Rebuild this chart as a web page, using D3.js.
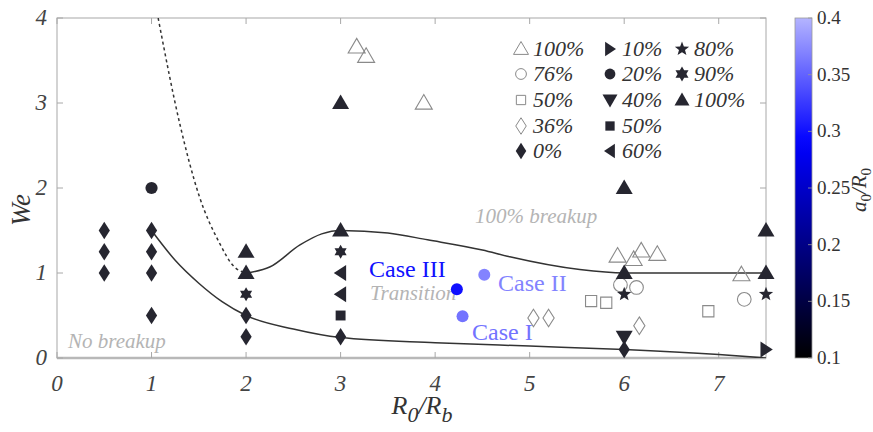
<!doctype html>
<html>
<head>
  <meta charset="utf-8">
  <script src="https://cdnjs.cloudflare.com/ajax/libs/d3/7.8.5/d3.min.js"></script>
</head>
<body style="margin:0">
  <script>

    // ---- data (x = R0/Rb, y = We) ----
    const openTri100 = [[3.17, 3.66], [3.27, 3.55], [3.88, 3.0], [5.93, 1.2], [6.1, 1.16], [6.18, 1.26], [6.35, 1.22], [7.24, 0.98]];
    const openCirc76 = [[5.96, 0.86], [6.13, 0.83], [7.27, 0.69]];
    const openSq50 = [[5.65, 0.67], [5.81, 0.65], [6.89, 0.55]];
    const openDia36 = [[5.04, 0.47], [5.2, 0.47], [6.16, 0.38]];
    const dia0 = [[0.5, 1], [0.5, 1.25], [0.5, 1.5], [1, 0.5], [1, 1], [1, 1.25], [1, 1.5], [2, 0.25], [2, 0.5], [3, 0.25], [6, 0.1]];
    const triR10 = [[7.5, 0.1]];
    const circ20 = [[1, 2]];
    const triD40 = [[6, 0.25]];
    const sq50 = [[3, 0.5]];
    const triL60 = [[3, 0.75], [3, 1]];
    const star80 = [[6, 0.75], [7.5, 0.75]];
    const hex90 = [[2, 0.75], [3, 1.25]];
    const tri100 = [[2, 1], [2, 1.25], [3, 1.5], [3, 3], [6, 1], [6, 2], [7.5, 1], [7.5, 1.5]];

    const caseNames = ["Case I", "Case II", "Case III"];
    const caseX = [4.29, 4.52, 4.23];
    const caseWe = [0.49, 0.98, 0.81];
    const caseA = [0.36, 0.37, 0.3];

    const lowerCurve = [[1, 1.5], [1.25, 1.15], [1.5, 0.88], [1.75, 0.66], [2, 0.5], [2.5, 0.34], [3, 0.24], [4, 0.18], [5, 0.14], [6, 0.1], [7, 0.04], [7.5, 0]];
    const upperCurve = [[2, 1], [2.25, 1.07], [2.57, 1.33], [2.8, 1.46], [3, 1.5], [3.5, 1.47], [3.92, 1.39], [4.5, 1.27], [4.79, 1.19], [5.53, 1.04], [6, 1.0], [7.5, 1.0]];
    const dottedCurve = [[1.07, 4], [1.3, 2.75], [1.5, 1.92], [1.72, 1.35], [1.86, 1.09], [2, 1.0]];

    const xTicks = [0, 1, 2, 3, 4, 5, 6, 7];
    const yTicks = [0, 1, 2, 3, 4];
    const cbTicks = [0.1, 0.15, 0.2, 0.25, 0.3, 0.35, 0.4];

    const legendCols = [
      [["openTri", "100%"], ["openCirc", "76%"], ["openSq", "50%"], ["openDia", "36%"], ["dia", "0%"]],
      [["triR", "10%"], ["circ", "20%"], ["triD", "40%"], ["sq", "50%"], ["triL", "60%"]],
      [["star5", "80%"], ["hex", "90%"], ["triU", "100%"]]
    ];

    // ---- layout ----
    const W = 873, H = 432;
    const m = { left: 57, right: 766, top: 18, bottom: 358 };
    const dark = "#262630", openCol = "#8a8a8a", grayText = "#b4b4b4";

    const svg = d3.select("body").append("svg").attr("width", W).attr("height", H);

    const x = d3.scaleLinear().domain([0, 7.5]).range([m.left, m.right]);
    const y = d3.scaleLinear().domain([0, 4]).range([m.bottom, m.top]);

    svg.append("clipPath").attr("id", "clip").append("rect")
      .attr("x", m.left).attr("y", m.top).attr("width", m.right - m.left).attr("height", m.bottom - m.top);

    // text helper: same inline style form that renders the serif face
    function txt(parent, size, italic) {
      return parent.append("text")
        .attr("style", "font-family:'Liberation Serif', serif; font-size:" + size + "px; font-style:" + (italic ? "italic" : "normal"));
    }

    // marker shapes
    function shape(type, r) {
      const p = pts => "M" + pts.map(q => q[0].toFixed(2) + "," + q[1].toFixed(2)).join("L") + "Z";
      switch (type) {
        case "triU": case "openTri": return p([[0, -r], [r * 1.0, r * 0.72], [-r * 1.0, r * 0.72]]);
        case "triD": return p([[0, r], [r * 1.0, -r * 0.72], [-r * 1.0, -r * 0.72]]);
        case "triL": return p([[-r * 0.8, 0], [r * 0.65, -r * 0.95], [r * 0.65, r * 0.95]]);
        case "triR": return p([[r * 0.8, 0], [-r * 0.65, -r * 0.95], [-r * 0.65, r * 0.95]]);
        case "dia": case "openDia": return p([[0, -r * 1.1], [r * 0.7, 0], [0, r * 1.1], [-r * 0.7, 0]]);
        case "sq": case "openSq": return p([[-r * 0.62, -r * 0.62], [r * 0.62, -r * 0.62], [r * 0.62, r * 0.62], [-r * 0.62, r * 0.62]]);
        case "circ": case "openCirc": return d3.arc()({ innerRadius: 0, outerRadius: r * 0.72, startAngle: 0, endAngle: 2 * Math.PI });
        case "star5": {
          const a = [];
          for (let i = 0; i < 10; i++) {
            const rr = i % 2 ? r * 0.42 : r;
            const t = -Math.PI / 2 + i * Math.PI / 5;
            a.push([rr * Math.cos(t), rr * Math.sin(t)]);
          }
          return p(a);
        }
        case "hex": {
          const a = [];
          for (let i = 0; i < 12; i++) {
            const rr = i % 2 ? r * 0.58 : r;
            const t = -Math.PI / 2 + i * Math.PI / 6;
            a.push([rr * Math.cos(t), rr * Math.sin(t)]);
          }
          return p(a);
        }
      }
    }
    const isOpen = t => t.startsWith("open");

    // ---- axes box ----
    const box = svg.append("g");
    box.append("rect").attr("x", m.left).attr("y", m.top)
      .attr("width", m.right - m.left).attr("height", m.bottom - m.top)
      .attr("fill", "none").attr("stroke", "#a8a8a8").attr("stroke-width", 1);
    box.append("line").attr("x1", m.left).attr("x2", m.right).attr("y1", m.bottom).attr("y2", m.bottom)
      .attr("stroke", "#b8b8b8").attr("stroke-width", 2.5);

    xTicks.forEach(t => {
      box.append("line").attr("x1", x(t)).attr("x2", x(t)).attr("y1", m.bottom).attr("y2", m.bottom - 6).attr("stroke", "#a8a8a8");
      box.append("line").attr("x1", x(t)).attr("x2", x(t)).attr("y1", m.top).attr("y2", m.top + 6).attr("stroke", "#a8a8a8");
      txt(box, 23, true).attr("x", x(t)).attr("y", m.bottom + 33).attr("text-anchor", "middle")
        .attr("fill", "#444").text(t);
    });
    yTicks.forEach(t => {
      box.append("line").attr("x1", m.left).attr("x2", m.left + 6).attr("y1", y(t)).attr("y2", y(t)).attr("stroke", "#a8a8a8");
      box.append("line").attr("x1", m.right).attr("x2", m.right - 6).attr("y1", y(t)).attr("y2", y(t)).attr("stroke", "#a8a8a8");
      txt(box, 23, true).attr("x", m.left - 10).attr("y", y(t) + 7).attr("text-anchor", "end")
        .attr("fill", "#444").text(t);
    });

    // axis labels
    txt(svg, 27, true).attr("transform", "translate(30,210) rotate(-90)").attr("text-anchor", "middle")
      .attr("fill", "#333").text("We");
    const xl = txt(svg, 26, true).attr("x", 422).attr("y", 414).attr("text-anchor", "middle").attr("fill", "#333");
    xl.append("tspan").text("R");
    xl.append("tspan").attr("dy", 8).attr("style", "font-size:22px").text("0");
    xl.append("tspan").attr("dy", -8).text("/R");
    xl.append("tspan").attr("dy", 8).attr("style", "font-size:22px").text("b");

    // ---- region labels ----
    const region = (tx, ty, s) => txt(svg, 21, true).attr("x", tx).attr("y", ty).attr("fill", grayText).text(s);
    region(475, 223, "100% breakup");
    region(370, 300, "Transition");
    region(68, 348, "No breakup");

    // ---- curves ----
    const line = d3.line().x(d => x(d[0])).y(d => y(d[1])).curve(d3.curveMonotoneX);
    const curves = svg.append("g").attr("clip-path", "url(#clip)");
    curves.append("path").attr("d", line(lowerCurve)).attr("fill", "none").attr("stroke", "#333").attr("stroke-width", 1.5);
    curves.append("path").attr("d", line(upperCurve)).attr("fill", "none").attr("stroke", "#333").attr("stroke-width", 1.5);
    curves.append("path").attr("d", line(dottedCurve)).attr("fill", "none").attr("stroke", "#333")
      .attr("stroke-width", 1.5).attr("stroke-dasharray", "3,3");

    // ---- markers ----
    const series = [
      ["openTri", openTri100, 8.5], ["openCirc", openCirc76, 9.5], ["openSq", openSq50, 9], ["openDia", openDia36, 8],
      ["dia", dia0, 8], ["triR", triR10, 8.5], ["circ", circ20, 8.5], ["triD", triD40, 8.5], ["sq", sq50, 8],
      ["triL", triL60, 8.5], ["star5", star80, 7.5], ["hex", hex90, 7], ["triU", tri100, 8.5]
    ];
    const mk = svg.append("g");
    series.forEach(([type, data, r]) => {
      mk.selectAll(null).data(data).enter().append("path")
        .attr("transform", d => "translate(" + x(d[0]) + "," + y(d[1]) + ")")
        .attr("d", shape(type, r))
        .attr("fill", isOpen(type) ? "none" : dark)
        .attr("stroke", isOpen(type) ? openCol : "none")
        .attr("stroke-width", 1.1);
    });

    // ---- colour scale ----
    const cmap = d3.scaleLinear().domain([0.1, 0.29, 0.4]).range(["#000000", "#0000ff", "#b4b4ff"]);

    caseNames.forEach((n, i) => {
      svg.append("circle").attr("cx", x(caseX[i])).attr("cy", y(caseWe[i])).attr("r", 6)
        .attr("fill", cmap(caseA[i]));
    });
    const caseLabel = (tx, ty, i) => txt(svg, 24, false).attr("x", tx).attr("y", ty)
      .attr("fill", cmap(caseA[i])).text(caseNames[i]);
    caseLabel(472, 340, 0);
    caseLabel(498, 291, 1);
    caseLabel(369, 277, 2);

    // ---- legend ----
    const legX = [521, 610, 682];
    const legY = [49, 74, 100, 126, 151];
    legendCols.forEach((col, ci) => {
      col.forEach(([type, label], ri) => {
        mk.append("path").attr("transform", "translate(" + legX[ci] + "," + legY[ri] + ")")
          .attr("d", shape(type, 7.5))
          .attr("fill", isOpen(type) ? "none" : dark)
          .attr("stroke", isOpen(type) ? openCol : "none")
          .attr("stroke-width", 1);
        txt(svg, 22, true).attr("x", legX[ci] + 12).attr("y", legY[ri] + 7).attr("fill", "#333").text(label);
      });
    });

    // ---- colorbar ----
    const cb = { x: 795, w: 17 };
    const cy = d3.scaleLinear().domain([0.1, 0.4]).range([m.bottom, m.top]);
    const grad = svg.append("defs").append("linearGradient").attr("id", "cbar")
      .attr("x1", 0).attr("y1", 1).attr("x2", 0).attr("y2", 0);
    d3.range(0, 1.0001, 0.05).forEach(f => {
      grad.append("stop").attr("offset", f).attr("stop-color", cmap(0.1 + f * 0.3));
    });
    svg.append("rect").attr("x", cb.x).attr("y", m.top).attr("width", cb.w).attr("height", m.bottom - m.top)
      .attr("fill", "url(#cbar)").attr("stroke", "#999").attr("stroke-width", 0.8);
    cbTicks.forEach(t => {
      svg.append("line").attr("x1", cb.x + cb.w).attr("x2", cb.x + cb.w - 4).attr("y1", cy(t)).attr("y2", cy(t))
        .attr("stroke", "#999").attr("stroke-width", 0.8);
      txt(svg, 19, false).attr("x", cb.x + cb.w + 5).attr("y", cy(t) + 6).attr("fill", "#333").text(t);
    });
    const cl = txt(svg, 21, true).attr("transform", "translate(866,190) rotate(-90)").attr("text-anchor", "middle").attr("fill", "#333");
    cl.append("tspan").text("a");
    cl.append("tspan").attr("dy", 5).attr("style", "font-size:15px; font-style:normal").text("0");
    cl.append("tspan").attr("dy", -5).text("/R");
    cl.append("tspan").attr("dy", 5).attr("style", "font-size:15px; font-style:normal").text("0");

  </script>
</body>
</html>
